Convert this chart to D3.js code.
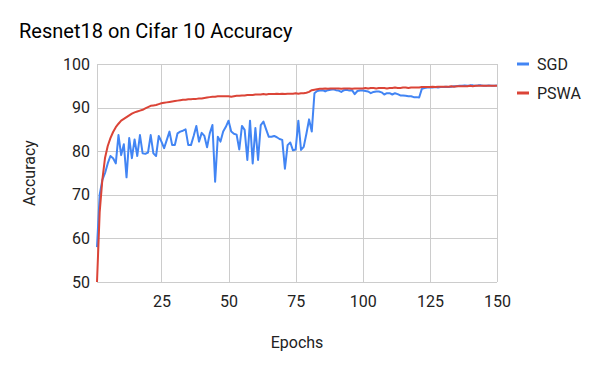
<!DOCTYPE html>
<html>
<head>
<meta charset="utf-8">
<script src="https://cdn.jsdelivr.net/npm/d3@7"></script>
<style>
  body { margin: 0; background: #fff; }
  text { font-family: Roboto, Arial, sans-serif; }
</style>
</head>
<body>
<div id="chart"></div>
<script>
// data
var epochs = d3.range(1, 151);

var sgd = [
  58, 70, 73.4, 75, 77.2, 78.9, 78.4, 77.2, 83.7, 79.1,
  81.6, 74, 83, 78.4, 82.7, 78.9, 83.7, 79.5, 79.4, 79.7,
  83.7, 79.5, 78.9, 83.5, 82.2, 80.7, 82.6, 84.5, 81.4, 81.4,
  84.1, 84.5, 84.7, 85, 81.4, 81.4, 83.5, 85.8, 82.2, 84.2,
  83.5, 80.9, 84.1, 86, 73, 83.3, 82.2, 84.5, 85.6, 87,
  84.5, 84, 83.8, 80.4, 85.8, 84.9, 78, 87, 77.2, 85.3,
  78, 86, 86.8, 85, 83.3, 83.3, 83.5, 83.2, 82.8, 82.6,
  76, 81.4, 82, 80.2, 80.4, 87, 80.3, 81, 84, 87.3,
  84.5, 93.3, 93.8, 93.9, 94, 93.7, 94, 94.1, 94.2, 94,
  93.9, 93.6, 94, 94.1, 93.9, 94, 93.1, 93.8, 93.9, 93.9,
  93.8, 93.7, 93.3, 93.6, 93.7, 93.7, 93.5, 93, 93.3, 93.3,
  93, 93.3, 93.1, 92.8, 92.8, 92.7, 92.6, 92.6, 92.4, 92.4,
  92.3, 94.3, 94.5, 94.6, 94.6, 94.6, 94.7, 94.6, 94.7, 94.7,
  94.8, 94.7, 94.8, 94.9, 94.9, 95, 95, 95.1, 95, 95.1,
  95.1, 95, 95.1, 95.1, 95, 95, 95.1, 95, 95, 95.1
];

var pswa = [
  50, 66, 73.5, 78.5, 81.2, 83, 84.4, 85.5, 86.3, 87,
  87.4, 87.8, 88.2, 88.6, 88.9, 89.1, 89.3, 89.5, 89.8, 90.1,
  90.4, 90.5, 90.6, 90.8, 91, 91.1, 91.2, 91.3, 91.4, 91.5,
  91.6, 91.7, 91.8, 91.8, 91.9, 91.9, 92, 92, 92.1, 92.1,
  92.2, 92.3, 92.4, 92.5, 92.5, 92.6, 92.6, 92.6, 92.6, 92.6,
  92.5, 92.6, 92.7, 92.7, 92.8, 92.8, 92.9, 92.9, 92.9, 93,
  93, 93, 93.1, 93, 93.1, 93.1, 93.1, 93.2, 93.1, 93.2,
  93.1, 93.2, 93.2, 93.2, 93.3, 93.2, 93.3, 93.3, 93.4, 93.6,
  94, 94.1, 94.2, 94.3, 94.3, 94.4, 94.3, 94.4, 94.4, 94.4,
  94.4, 94.3, 94.4, 94.4, 94.4, 94.3, 94.4, 94.4, 94.4, 94.4,
  94.5, 94.4, 94.5, 94.5, 94.4, 94.5, 94.5, 94.5, 94.4, 94.5,
  94.5, 94.6, 94.5, 94.5, 94.6, 94.6, 94.5, 94.6, 94.6, 94.6,
  94.6, 94.7, 94.7, 94.7, 94.7, 94.8, 94.7, 94.8, 94.8, 94.8,
  94.8, 94.8, 94.9, 94.8, 94.9, 94.9, 94.9, 94.9, 94.9, 95,
  94.9, 95, 95, 95, 95, 95, 95, 95, 95, 95
];

var xTicks = [25, 50, 75, 100, 125, 150];
var yTicks = [50, 60, 70, 80, 90, 100];
var seriesNames = ["SGD", "PSWA"];
var seriesColors = ["#4285f4", "#db4437"];

var svgWidth = 600;
var svgHeight = 371;

var margin = { top: 64, right: 103, bottom: 89, left: 97 };
var width = svgWidth - margin.left - margin.right;
var height = svgHeight - margin.top - margin.bottom;

var svg = d3.select("#chart")
  .append("svg")
  .attr("width", svgWidth)
  .attr("height", svgHeight);

svg.append("text")
  .attr("x", 19)
  .attr("y", 38)
  .attr("font-size", "20px")
  .attr("fill", "#000")
  .text("Resnet18 on Cifar 10 Accuracy");

var chartGroup = svg.append("g")
  .attr("transform", `translate(${margin.left}, ${margin.top})`);

var xScale = d3.scaleLinear().domain([1, 150]).range([0, width]);
var yScale = d3.scaleLinear().domain([50, 100]).range([height, 0]);

// gridlines
chartGroup.append("g")
  .selectAll("line")
  .data(yTicks)
  .enter()
  .append("line")
  .attr("x1", 0)
  .attr("x2", width)
  .attr("y1", d => Math.round(yScale(d)) + 0.5)
  .attr("y2", d => Math.round(yScale(d)) + 0.5)
  .attr("stroke", "#cccccc");

chartGroup.append("g")
  .selectAll("line")
  .data([1].concat(xTicks))
  .enter()
  .append("line")
  .attr("x1", d => Math.round(xScale(d)) + 0.5)
  .attr("x2", d => Math.round(xScale(d)) + 0.5)
  .attr("y1", 0)
  .attr("y2", height)
  .attr("stroke", "#cccccc");

// axes (labels only)
var bottomAxis = d3.axisBottom(xScale).tickValues(xTicks).tickSize(0).tickPadding(14);
var leftAxis = d3.axisLeft(yScale).tickValues(yTicks).tickSize(0).tickPadding(7);

var xAxisG = chartGroup.append("g")
  .attr("transform", `translate(0, ${height})`)
  .call(bottomAxis);
var yAxisG = chartGroup.append("g").call(leftAxis);

[xAxisG, yAxisG].forEach(function (g) {
  g.select(".domain").remove();
  g.selectAll("text")
    .attr("font-family", "Roboto, Arial, sans-serif")
    .attr("font-size", "16px")
    .attr("fill", "#222");
});

// lines
var line = d3.line()
  .x((d, i) => xScale(epochs[i]))
  .y(d => yScale(d));

[sgd, pswa].forEach(function (values, k) {
  chartGroup.append("path")
    .datum(values)
    .attr("fill", "none")
    .attr("stroke", seriesColors[k])
    .attr("stroke-width", 2)
    .attr("stroke-linejoin", "round")
    .attr("d", line);
});

// axis titles
svg.append("text")
  .attr("x", 297)
  .attr("y", 348)
  .attr("text-anchor", "middle")
  .attr("font-size", "16px")
  .attr("fill", "#222")
  .text("Epochs");

svg.append("text")
  .attr("transform", `translate(35, ${margin.top + height / 2}) rotate(-90)`)
  .attr("text-anchor", "middle")
  .attr("font-size", "16px")
  .attr("fill", "#222")
  .text("Accuracy");

// legend
var legend = svg.append("g")
  .selectAll("g")
  .data(seriesNames)
  .enter()
  .append("g")
  .attr("transform", (d, i) => `translate(517, ${64 + i * 29})`);

legend.append("line")
  .attr("x1", 0)
  .attr("x2", 12)
  .attr("stroke", (d, i) => seriesColors[i])
  .attr("stroke-width", 3);

legend.append("text")
  .attr("x", 20)
  .attr("y", 6)
  .attr("font-size", "16px")
  .attr("fill", "#222")
  .text(d => d);
</script>
</body>
</html>
